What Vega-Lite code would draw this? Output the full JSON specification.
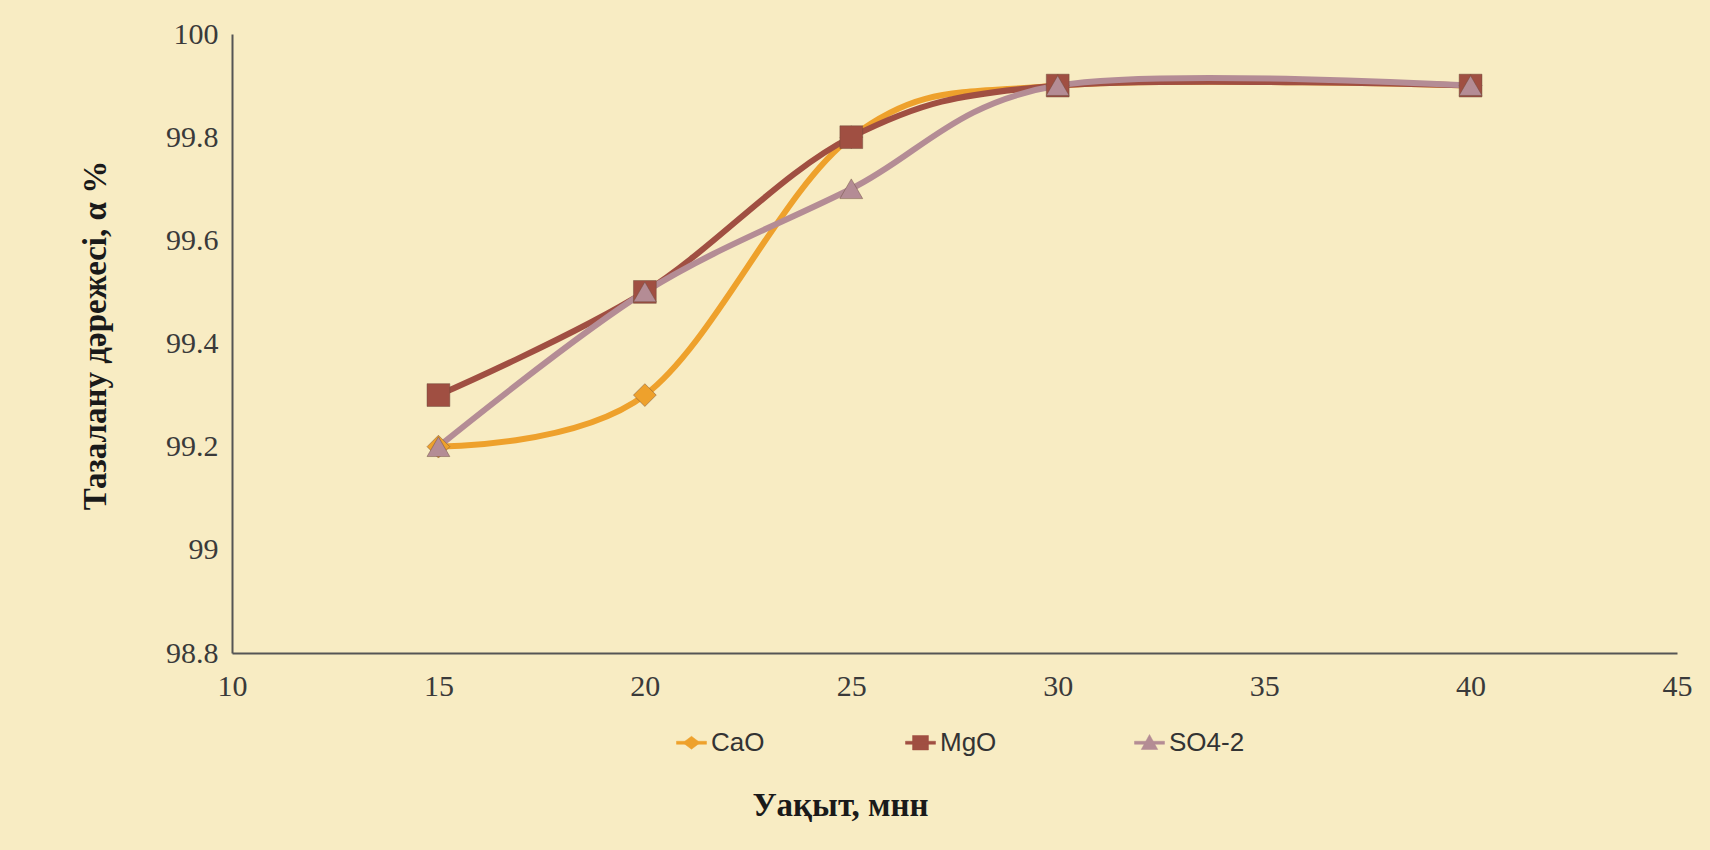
{
  "$schema": "https://vega.github.io/schema/vega-lite/v6.json",
  "width": 1445,
  "height": 619,
  "autosize": {"type": "none"},
  "padding": {"left": 232, "top": 34, "right": 33, "bottom": 197},
  "background": "#F8ECC3",
  "config": {
    "view": {"stroke": null},
    "axis": {
      "grid": false,
      "ticks": false,
      "domainColor": "#555555",
      "domainWidth": 2,
      "labelFont": "Liberation Serif",
      "labelFontSize": 30,
      "labelColor": "#3a3a3a",
      "labelOverlap": false,
      "labelFlush": false,
      "titleFont": "Liberation Serif",
      "titleFontWeight": "bold",
      "titleColor": "#1a1a1a"
    },
    "legend": {
      "orient": "none",
      "direction": "horizontal",
      "legendX": 444,
      "legendY": 693,
      "labelFont": "Liberation Sans",
      "labelFontSize": 26,
      "labelColor": "#333333",
      "labelOffset": 4,
      "symbolSize": 900,
      "symbolOpacity": 1,
      "symbolStrokeWidth": 0.5,
      "columnPadding": 117,
      "gridAlign": "all"
    }
  },
  "data": {
    "values": [
      {"time": 15, "purity": 99.2, "series": "CaO"},
      {"time": 20, "purity": 99.3, "series": "CaO"},
      {"time": 25, "purity": 99.8, "series": "CaO"},
      {"time": 30, "purity": 99.9, "series": "CaO"},
      {"time": 40, "purity": 99.9, "series": "CaO"},
      {"time": 15, "purity": 99.3, "series": "MgO"},
      {"time": 20, "purity": 99.5, "series": "MgO"},
      {"time": 25, "purity": 99.8, "series": "MgO"},
      {"time": 30, "purity": 99.9, "series": "MgO"},
      {"time": 40, "purity": 99.9, "series": "MgO"},
      {"time": 15, "purity": 99.2, "series": "SO4-2"},
      {"time": 20, "purity": 99.5, "series": "SO4-2"},
      {"time": 25, "purity": 99.7, "series": "SO4-2"},
      {"time": 30, "purity": 99.9, "series": "SO4-2"},
      {"time": 40, "purity": 99.9, "series": "SO4-2"}
    ]
  },
  "encoding": {
    "x": {
      "field": "time",
      "type": "quantitative",
      "scale": {"domain": [10, 45], "nice": false, "zero": false},
      "axis": {
        "values": [10, 15, 20, 25, 30, 35, 40, 45],
        "labelPadding": 18,
        "title": "Уақыт, мнн",
        "titleFontSize": 33,
        "titleX": 608,
        "titleY": 152,
        "titleAlign": "center",
        "titleBaseline": "middle"
      }
    },
    "y": {
      "field": "purity",
      "type": "quantitative",
      "scale": {"domain": [98.8, 100], "nice": false, "zero": false},
      "axis": {
        "values": [98.8, 99, 99.2, 99.4, 99.6, 99.8, 100],
        "format": "~f",
        "labelPadding": 14,
        "title": "Тазалану дәрежесі, α %",
        "titleFontSize": 33,
        "titleAngle": -90,
        "titleX": -137,
        "titleY": 301,
        "titleAlign": "center",
        "titleBaseline": "middle"
      }
    },
    "color": {
      "field": "series",
      "type": "nominal",
      "title": null,
      "scale": {"domain": ["CaO", "MgO", "SO4-2"], "range": ["#EEA12C", "#A04F42", "#B48C95"]}
    }
  },
  "layer": [
    {"mark": {"type": "line", "interpolate": "cardinal", "strokeWidth": 6}},
    {
      "transform": [{"filter": "datum.series === 'CaO'"}],
      "mark": {"type": "point", "shape": "diamond", "filled": true, "opacity": 1, "size": 520, "stroke": "#6b4a3a", "strokeWidth": 1, "strokeOpacity": 0.45}
    },
    {
      "transform": [{"filter": "datum.series === 'MgO'"}],
      "mark": {"type": "point", "shape": "square", "filled": true, "opacity": 1, "size": 520, "stroke": "#6b4a3a", "strokeWidth": 1, "strokeOpacity": 0.45}
    },
    {
      "transform": [{"filter": "datum.series === 'SO4-2'"}],
      "mark": {"type": "point", "shape": "triangle-up", "filled": true, "opacity": 1, "size": 520, "stroke": "#6b4a3a", "strokeWidth": 1, "strokeOpacity": 0.45}
    },
    {
      "mark": {"type": "point", "filled": true, "opacity": 0, "size": 10},
      "encoding": {
        "shape": {
          "field": "series",
          "type": "nominal",
          "title": null,
          "scale": {
            "domain": ["CaO", "MgO", "SO4-2"],
            "range": [
              "M-1,-0.1H1V0.1H-1Z M-0.57,0L0,-0.43L0.57,0L0,0.43Z",
              "M-1,-0.1H1V0.1H-1Z M-0.53,-0.48H0.53V0.48H-0.53Z",
              "M-1,-0.1H1V0.1H-1Z M0,-0.55L0.55,0.45H-0.55Z"
            ]
          }
        }
      }
    }
  ]
}
